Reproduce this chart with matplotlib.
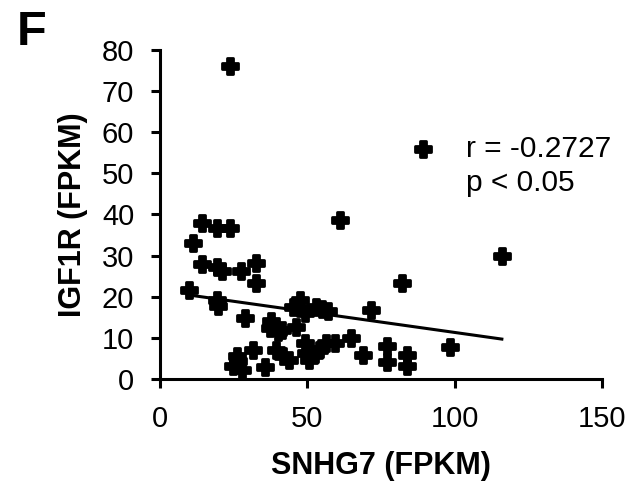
import matplotlib
matplotlib.use("Agg")
import matplotlib.pyplot as plt

plt.rcParams['font.family'] = ['Liberation Sans', 'DejaVu Sans']

snhg7 = [9.9, 11.3, 14.1, 14.1, 19.2, 23.6, 19.2, 20.9, 19.2, 19.7,
         23.6, 27.4, 32.7, 32.7, 28.9, 26.0, 24.8, 27.7, 26.3, 31.6,
         35.6, 37.8, 37.2, 40.1, 41.5, 39.5, 41.8, 43.6, 46.3, 45.1,
         47.4, 49.1, 49.1, 49.7, 50.5, 53.1, 55.0, 57.0, 54.0, 56.3,
         59.5, 52.5, 61.0, 64.9, 69.0, 71.5, 77.1, 77.1, 82.2, 83.8,
         83.8, 89.2, 98.4, 115.9]
igf1r = [21.6, 33.0, 37.9, 28.0, 36.6, 36.6, 27.3, 26.2, 19.3, 17.8,
         76.1, 26.3, 28.3, 23.3, 14.8, 5.7, 3.2, 2.2, 4.4, 7.1,
         3.0, 14.0, 12.5, 11.5, 12.0, 7.1, 5.7, 4.7, 12.6, 17.4,
         19.3, 16.0, 8.7, 6.2, 4.6, 17.6, 17.0, 16.6, 7.1, 8.7,
         8.7, 6.0, 38.7, 9.9, 5.9, 16.7, 7.9, 4.1, 23.3, 5.8,
         3.1, 55.9, 7.7, 29.9]

fit_x = [10, 116]
fit_y = [20.4, 9.7]

xticks = [0, 50, 100, 150]
yticks = [0, 10, 20, 30, 40, 50, 60, 70, 80]

fig = plt.figure(figsize=(6.31, 4.87), dpi=100)
ax = fig.add_axes([0.2536, 0.2218, 0.7005, 0.6756])

ax.scatter(snhg7, igf1r, marker='P', s=120, color='black',
           edgecolors='black', linewidths=2.0, zorder=3)
ax.plot(fit_x, fit_y, color='black', lw=2.2, zorder=2)

ax.set_xlim(0, 150)
ax.set_ylim(0, 80)
ax.set_xticks(xticks)
ax.set_yticks(yticks)
for s in ['top', 'right']:
    ax.spines[s].set_visible(False)
for s in ['left', 'bottom']:
    ax.spines[s].set_linewidth(2.2)
ax.tick_params(axis='both', direction='out', length=6.5, width=2.2,
               labelsize=21, pad=12)

ax.set_xlabel('SNHG7 (FPKM)', fontsize=22, fontweight='bold', labelpad=13)
ax.set_ylabel('IGF1R (FPKM)', fontsize=22, fontweight='bold', labelpad=10)

ax.text(104, 55.9, 'r = -0.2727', fontsize=21.5, va='center', ha='left')
ax.text(104, 47.7, 'p < 0.05', fontsize=21.5, va='center', ha='left')

fig.text(0.027, 1 - 45/487, 'F', fontsize=35, fontweight='bold', ha='left', va='baseline')

fig.savefig('out.png', dpi=100)
